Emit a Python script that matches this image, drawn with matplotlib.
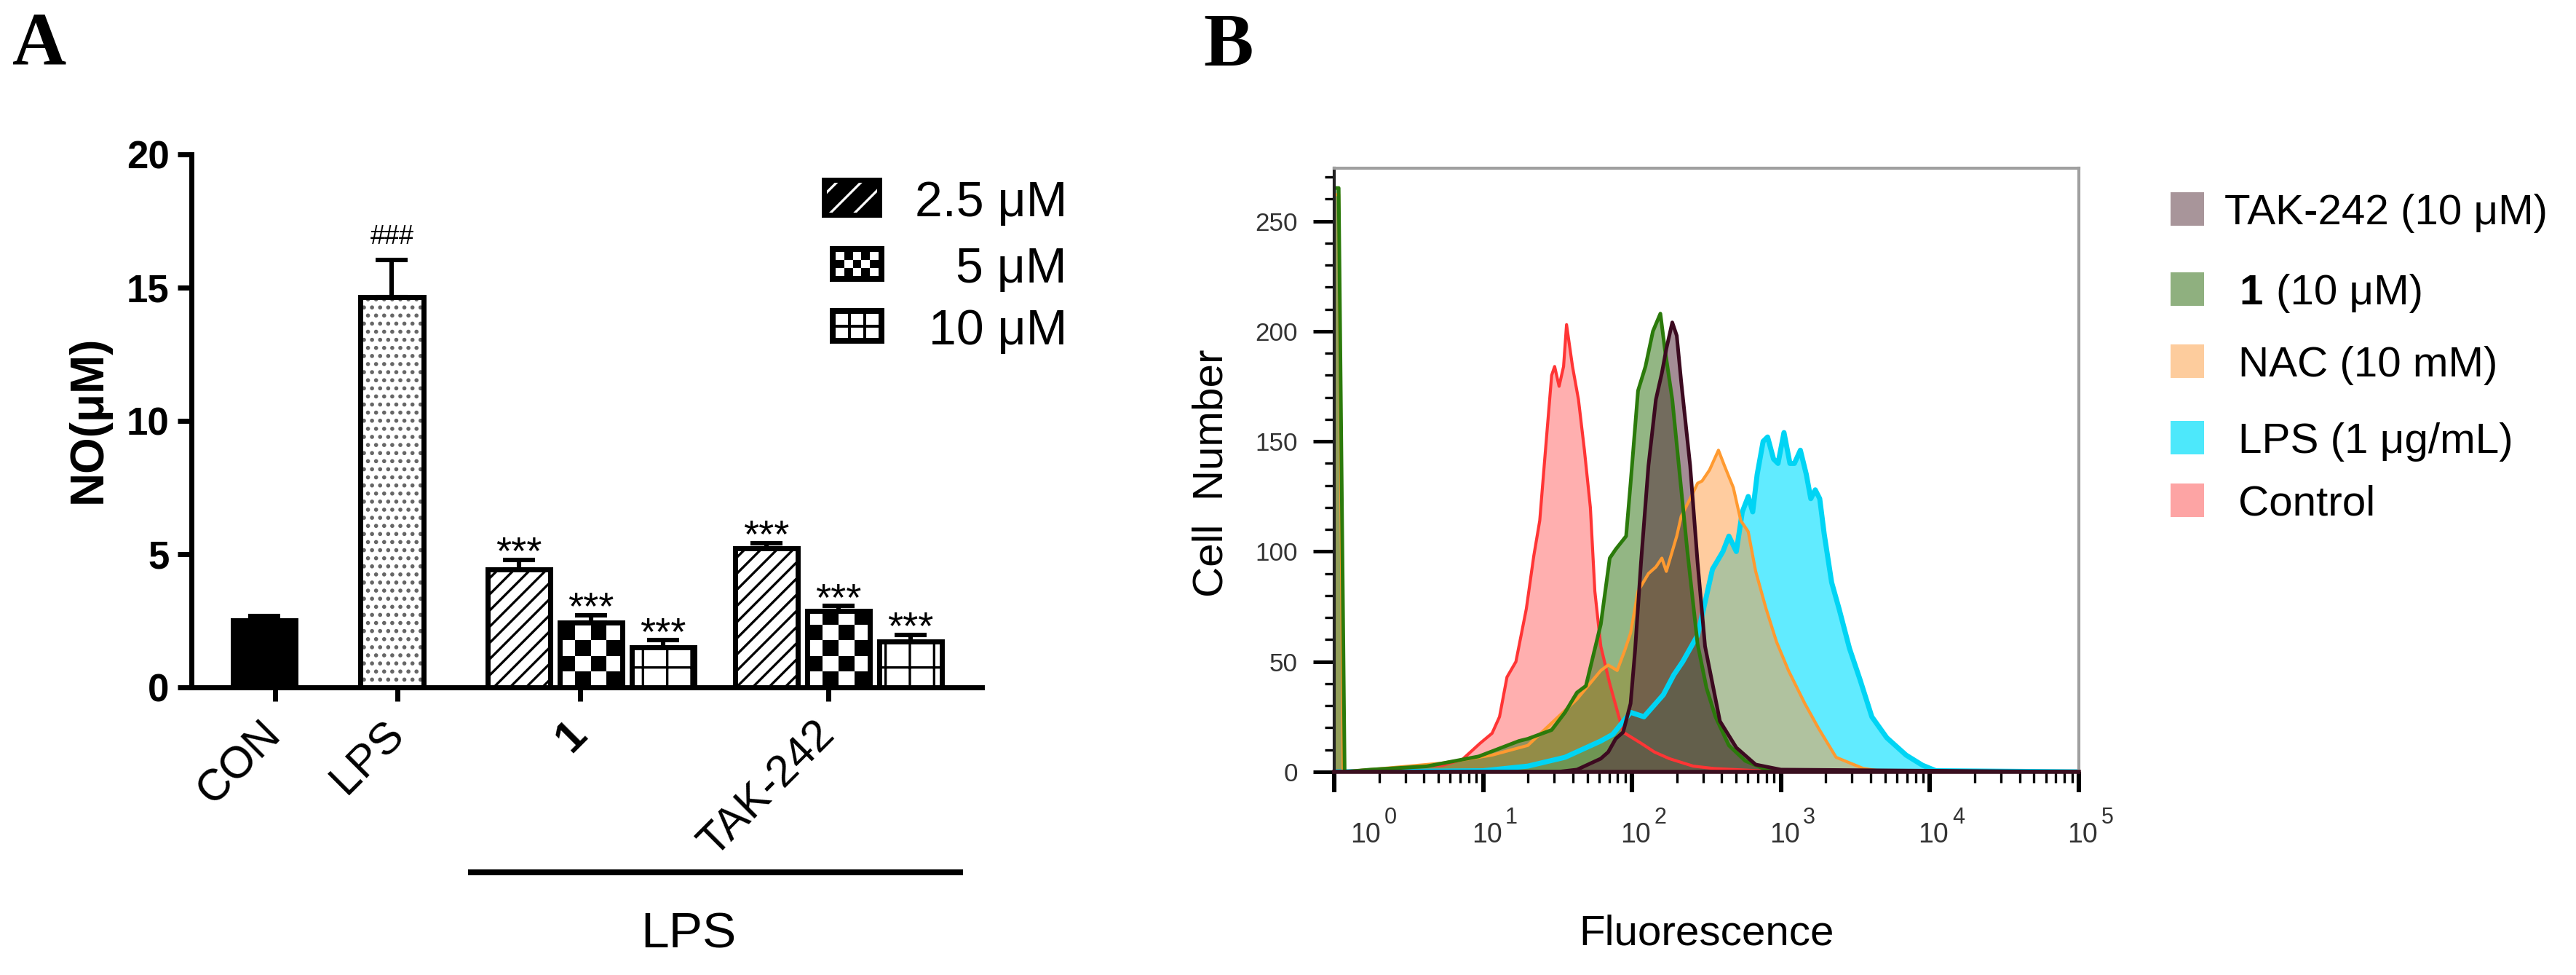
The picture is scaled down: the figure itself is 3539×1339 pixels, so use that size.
import numpy as np
import matplotlib
matplotlib.use('Agg')
import matplotlib.pyplot as plt
from matplotlib.patches import Rectangle
from matplotlib.lines import Line2D
from matplotlib.colors import ListedColormap
from matplotlib.ticker import LogLocator, MultipleLocator, NullFormatter

plt.rcParams['font.family'] = ['Liberation Sans', 'DejaVu Sans']
plt.rcParams['hatch.linewidth'] = 1.2

W, H, DPI = 3539, 1339, 200

# ---------------- panel A data: NO production (uM)
groups = ['CON', 'LPS', '1', 'TAK-242']
doses = ['2.5 μM', '5 μM', '10 μM']
con_mean, con_err = 2.52, 0.15
lps_mean, lps_err = 14.64, 1.40
cpd1_mean = [4.43, 2.43, 1.49]
cpd1_err = [0.36, 0.28, 0.28]
tak_mean = [5.21, 2.86, 1.72]
tak_err = [0.20, 0.19, 0.25]
lps_mark = '###'
dose_marks = ['***', '***', '***']

# ---------------- panel B data: flow cytometry histograms (log10 fluorescence, cell count)
ctrl_log = [0.0, 0.4, 0.73, 0.86, 0.98, 1.06, 1.11, 1.16, 1.22, 1.29, 1.34, 1.38, 1.41, 1.46, 1.48,
            1.51, 1.54, 1.56, 1.60, 1.64, 1.68, 1.72, 1.75, 1.79, 1.85, 1.94, 2.06, 2.15, 2.25,
            2.41, 2.55, 2.7, 3.0, 5.0]
ctrl_cnt = [0, 1.5, 3, 5.6, 13, 17.5, 25, 43, 50, 74, 98, 114, 139, 180, 184,
            175, 184, 203, 184, 169, 146, 120, 82, 57, 40, 18, 13, 9, 6,
            2.6, 1.5, 1, 0, 0]

lps_log = [0.0, 1.0, 1.30, 1.55, 1.79, 1.87, 1.99, 2.08, 2.21, 2.28, 2.34, 2.44, 2.54, 2.61,
           2.65, 2.70, 2.74, 2.78, 2.81, 2.84, 2.88, 2.91, 2.95, 2.98, 3.02, 3.06, 3.09, 3.13,
           3.17, 3.20, 3.23, 3.26, 3.29, 3.34, 3.39, 3.46, 3.53, 3.61, 3.71, 3.84, 3.95, 4.04, 5.0]
lps_cnt = [0, 0.5, 2.6, 6.6, 14, 17, 27, 25, 35, 44, 50, 62, 92, 100,
           107, 100, 118, 125, 118, 135, 150, 152, 142, 140, 154, 140, 140, 146,
           135, 124, 128, 124, 108, 86, 74, 56, 42, 25, 15.5, 7.6, 3, 0.5, 0]

nac_log = [0.0, 0.03, 0.06, 0.24, 0.73, 1.06, 1.30, 1.63, 1.79, 1.84, 1.90, 1.95, 1.99, 2.04,
           2.11, 2.16, 2.20, 2.23, 2.30, 2.33, 2.39, 2.44, 2.47, 2.52, 2.58, 2.62, 2.68, 2.73,
           2.78, 2.83, 2.90, 2.97, 3.05, 3.16, 3.25, 3.37, 3.55, 3.7, 5.0]
nac_cnt = [262, 262, 0, 1, 4, 7.6, 12, 33, 46, 48.5, 46, 55, 63, 82,
           90, 93, 97, 91, 107, 116, 124, 131, 132, 137, 146, 139, 129, 114,
           109, 91, 74, 59, 46, 31, 20, 6.6, 1.6, 0, 0]

cpd1_log = [0.0, 0.03, 0.07, 0.24, 0.62, 0.97, 1.24, 1.30, 1.46, 1.55, 1.63, 1.69, 1.74, 1.79,
            1.85, 1.89, 1.96, 1.99, 2.04, 2.09, 2.14, 2.19, 2.22, 2.27, 2.32, 2.37, 2.44, 2.50,
            2.56, 2.65, 2.76, 2.90, 3.0, 5.0]
cpd1_cnt = [265, 265, 0, 1, 2.5, 7, 14, 15, 19, 27, 36, 39, 53, 67,
            97, 101, 107, 131, 173, 184, 200, 208, 192, 169, 135, 101, 58, 38,
            25, 12, 5, 1, 0, 0]

tak_log = [0.0, 1.5, 1.63, 1.79, 1.84, 1.89, 1.94, 1.99, 2.02, 2.06, 2.11, 2.16, 2.20, 2.23,
           2.27, 2.30, 2.33, 2.39, 2.44, 2.49, 2.59, 2.70, 2.83, 3.0, 5.0]
tak_cnt = [0, 0, 1, 6, 9, 15, 18, 31, 55, 95, 139, 169, 181, 192,
           204, 198, 177, 139, 95, 57, 23, 11, 3.3, 1, 0]

flow_labels = ['TAK-242 (10 μM)', '1 (10 μM)', 'NAC (10 mM)', 'LPS (1 μg/mL)', 'Control']
decades = [0, 1, 2, 3, 4, 5]


def fx(px):
    return px / W


def fy(py):
    return 1 - py / H


def frect(x0, y0, x1, y1, **kw):
    fig.add_artist(Rectangle((fx(x0), fy(y1)), (x1 - x0) / W, (y1 - y0) / H,
                             transform=fig.transFigure, **kw))


fig = plt.figure(figsize=(W / DPI, H / DPI), dpi=DPI)

# ================= panel A
axA = fig.add_axes([fx(263), fy(944), (1349 - 263) / W, (944 - 212) / H])
xmin, xmax = -1.02, 10.06
axA.set_xlim(xmin, xmax)
axA.set_ylim(0, 20)
px_x = (1349 - 263) / (xmax - xmin)
px_y = (944 - 212) / 20.0

x_con, x_lps = 0.0, 1.79
centers = [4.58, 8.05]
step, bw = 1.01, 0.88
edge = dict(edgecolor='black', linewidth=2.5)


def checker_bar(ax, xc, h, w, ncol=4):
    xe = np.linspace(xc - w / 2, xc + w / 2, ncol + 1)
    dy = (w / ncol) * px_x / px_y
    ye = np.append(np.arange(0, h, dy), h)
    pat = np.add.outer(np.arange(len(ye) - 1), np.arange(ncol)) % 2
    ax.pcolormesh(xe, ye, pat, cmap=ListedColormap(['white', 'black']),
                  vmin=0, vmax=1, shading='flat', zorder=2)
    ax.bar(xc, h, w, facecolor='none', zorder=3, **edge)


axA.bar(x_con, con_mean, bw, facecolor='black', zorder=3, **edge)
axA.bar(x_lps, lps_mean, bw, facecolor='white', edgecolor='#666666', linewidth=0,
        hatch='...', zorder=2)
axA.bar(x_lps, lps_mean, bw, facecolor='none', zorder=3, **edge)

all_x, all_h, all_e = [x_con, x_lps], [con_mean, lps_mean], [con_err, lps_err]
for gc, means, errs in zip(centers, [cpd1_mean, tak_mean], [cpd1_err, tak_err]):
    xs = gc + step * np.array([-1, 0, 1])
    axA.bar(xs[0], means[0], bw, facecolor='white', hatch='///', zorder=3, **edge)
    checker_bar(axA, xs[1], means[1], bw)
    axA.bar(xs[2], means[2], bw, facecolor='white', hatch='+', zorder=3, **edge)
    all_x += list(xs)
    all_h += list(means)
    all_e += list(errs)
    for xi, m, e, s in zip(xs, means, errs, dose_marks):
        axA.text(xi, m + e - 0.15, s, ha='center', va='baseline', fontsize=19.5)

axA.errorbar(all_x, all_h, yerr=[np.zeros(len(all_e)), all_e], fmt='none', ecolor='black',
             elinewidth=2.2, capsize=8, capthick=2.2, zorder=1)
axA.text(x_lps, lps_mean + lps_err + 0.6, lps_mark, ha='center', va='baseline', fontsize=13)

for s in ['top', 'right']:
    axA.spines[s].set_visible(False)
for s in ['left', 'bottom']:
    axA.spines[s].set_linewidth(2.5)
axA.set_yticks([0, 5, 10, 15, 20])
axA.tick_params(axis='y', length=7, width=2.5, labelsize=19, pad=4)
for t in axA.get_yticklabels():
    t.set_fontweight('bold')
# group ticks sit slightly off the bar centres, as in the original figure
tick_shift = [0.15, 0.08, -0.15, -0.14]
axA.set_xticks([p + d for p, d in zip([x_con, x_lps] + centers, tick_shift)])
axA.set_xticklabels(groups, rotation=45, ha='right', va='center', rotation_mode='anchor', fontsize=22)
axA.tick_params(axis='x', length=7, width=2.5, pad=13)
axA.get_xticklabels()[2].set_fontweight('bold')

fig.text(fx(122), fy(576), 'NO(μM)', rotation=90, ha='center', va='center',
         fontsize=23, fontweight='bold')

# legend A (manual, swatches in figure pixels)
frect(1132, 247, 1208, 295, facecolor='black', edgecolor='white', linewidth=0, hatch='//')
frect(1132, 247, 1208, 295, facecolor='none', edgecolor='black', linewidth=2.5)
frect(1140, 338, 1215, 387, facecolor='black', edgecolor='black', linewidth=0)
cw, ch = (1215 - 1140 - 16) / 5, (387 - 338 - 16) / 3
for i in range(3):
    for j in range(5):
        if (i + j) % 2 == 0:
            frect(1148 + j * cw, 346 + i * ch, 1148 + (j + 1) * cw, 346 + (i + 1) * ch,
                  facecolor='white', linewidth=0)
frect(1140, 423, 1215, 472, facecolor='black', linewidth=0)
gw, gh = (1215 - 1140 - 16 - 8) / 3, (472 - 423 - 16 - 4) / 2
for i in range(2):
    for j in range(3):
        x0 = 1148 + j * (gw + 4)
        y0 = 431 + i * (gh + 4)
        frect(x0, y0, x0 + gw, y0 + gh, facecolor='white', linewidth=0)
for lab, yb in zip(doses, [297, 388, 473]):
    fig.text(fx(1466), fy(yb), lab, ha='right', va='baseline', fontsize=24.5)

fig.add_artist(Line2D([fx(647), fx(1319)], [fy(1198), fy(1198)], lw=2.9, color='black',
                      transform=fig.transFigure))
fig.text(fx(946), fy(1283), 'LPS', ha='center', va='center', fontsize=25)

# ================= panel B
axB = fig.add_axes([fx(1833), fy(1060), (2856 - 1833) / W, (1060 - 231) / H])
series = [
    (ctrl_log, ctrl_cnt, '#ff3535', '#ff7a7a', 0.6, 1.5),
    (lps_log, lps_cnt, '#00d4f4', '#1ee3ff', 0.7, 2.5),
    (nac_log, nac_cnt, '#ff9a30', '#ff9a40', 0.5, 1.5),
    (cpd1_log, cpd1_cnt, '#2b7a0b', '#3a7a20', 0.55, 1.8),
    (tak_log, tak_cnt, '#3c0a20', '#5a3040', 0.55, 1.8),
]
for lg, cnt, lc, fc, a, lw in series:
    xv = 10 ** np.array(lg)
    axB.fill_between(xv, 0, cnt, color=fc, alpha=a, linewidth=0)
    axB.plot(xv, cnt, color=lc, lw=lw)

axB.set_xscale('log')
axB.set_xlim(1, 1e5)
axB.set_ylim(0, 274)
axB.set_xticks([10.0 ** k for k in decades])
axB.set_xticklabels([''] * len(decades))
axB.xaxis.set_minor_locator(LogLocator(base=10, subs=range(2, 10)))
axB.xaxis.set_minor_formatter(NullFormatter())
axB.yaxis.set_major_locator(MultipleLocator(50))
axB.yaxis.set_minor_locator(MultipleLocator(10))
axB.tick_params(axis='y', which='major', length=10.5, width=1.8, labelsize=12.6, pad=7.5,
                labelcolor='#333333')
axB.tick_params(axis='y', which='minor', length=4.7, width=1.2)
axB.tick_params(axis='x', which='major', length=10, width=2.2)
axB.tick_params(axis='x', which='minor', length=5.5, width=1.2)
for s in ['top', 'right']:
    axB.spines[s].set_color('#a0a0a0')
    axB.spines[s].set_linewidth(1.5)
axB.spines['left'].set_color('#222222')
axB.spines['left'].set_linewidth(1.5)
axB.spines['bottom'].set_color('#3a1020')
axB.spines['bottom'].set_linewidth(2)

# decade labels drawn as base + raised exponent (offsets in points)
for k in decades:
    shift = 15.5 if k == 0 else 1.8
    axB.annotate('10', xy=(10.0 ** k, 0), xycoords=('data', 'axes fraction'),
                 xytext=(shift, -31.3), textcoords='offset points', ha='center', va='center',
                 fontsize=13.5, color='#333333', annotation_clip=False)
    axB.annotate(str(k), xy=(10.0 ** k, 0), xycoords=('data', 'axes fraction'),
                 xytext=(shift + 12.2, -22.7), textcoords='offset points', ha='center', va='center',
                 fontsize=11, color='#333333', annotation_clip=False)

fig.text(fx(1665), fy(650), 'Cell  Number', rotation=90, ha='center', va='center', fontsize=21)
fig.text(fx(2345), fy(1283), 'Fluorescence', ha='center', va='center', fontsize=21)

# legend B
sw_cols = ['#a8959a', '#8fb07f', '#fdcc9d', '#4de8fb', '#fda4a4']
for lab, yc, col in zip(flow_labels, [287, 397, 496, 601, 687], sw_cols):
    frect(2982, yc - 23, 3028, yc + 23, facecolor=col, linewidth=0)
    if lab.startswith('1 '):
        fig.text(fx(3076), fy(yc + 21), '1', ha='left', va='baseline', fontsize=21, fontweight='bold')
        fig.text(fx(3127), fy(yc + 21), lab[2:], ha='left', va='baseline', fontsize=21)
    else:
        x0 = 3056 if lab.startswith('TAK') else 3075
        fig.text(fx(x0), fy(yc + 21), lab, ha='left', va='baseline', fontsize=21)

fig.text(fx(17), fy(88), 'A', ha='left', va='baseline', fontsize=37, fontweight='bold',
         family='Liberation Serif')
fig.text(fx(1653), fy(90), 'B', ha='left', va='baseline', fontsize=37, fontweight='bold',
         family='Liberation Serif')

fig.savefig('out.png', dpi=DPI, facecolor='white')
